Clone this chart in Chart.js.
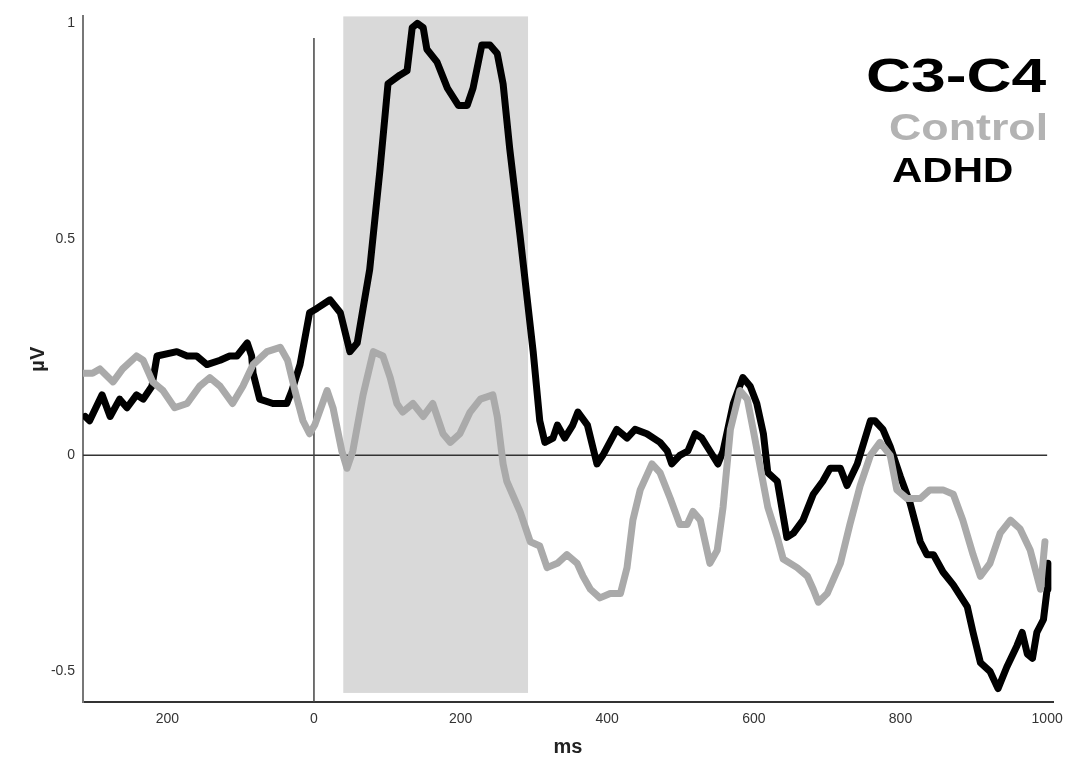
<!DOCTYPE html>
<html>
<head>
<meta charset="utf-8">
<script src="https://cdn.jsdelivr.net/npm/chart.js@4/dist/chart.umd.min.js"></script>
<style>
  html, body { margin: 0; padding: 0; background: #fff; }
  #wrap { width: 1072px; height: 763px; }
</style>
</head>
<body>
<div id="wrap"><canvas id="erp" width="1072" height="763"></canvas></div>
<script>
// ADHD (black) trace, ms / µV
const adhdMs = [-312,-306,-289,-278,-265,-255,-242,-233,-221,-214,
  -187,-173,-160,-146,-128,-115,-105,-91,-85,-83,
  -74,-56,-37,-30,-19,-6,4,22,36,49,
  59,67,76,90,101,117,127,134,141,149,
  154,168,182,197,209,217,229,240,250,258,
  267,281,299,308,315,326,332,342,353,360,
  373,386,394,413,427,438,454,472,482,488,
  499,510,520,529,540,551,558,572,585,595,
  604,613,619,632,645,654,667,681,694,704,
  718,727,741,759,765,776,786,800,813,827,
  836,845,858,872,891,899,909,922,933,945,
  959,966,973,980,986,995,1000,1001];
const adhdUv = [0.09,0.08,0.14,0.09,0.13,0.11,0.14,0.13,0.16,0.23,
  0.24,0.23,0.23,0.21,0.22,0.23,0.23,0.26,0.23,0.19,
  0.13,0.12,0.12,0.15,0.21,0.33,0.34,0.36,0.33,0.24,
  0.26,0.34,0.43,0.66,0.86,0.88,0.89,0.99,1.00,0.99,
  0.94,0.91,0.85,0.81,0.81,0.85,0.95,0.95,0.93,0.86,
  0.71,0.51,0.24,0.08,0.03,0.04,0.07,0.04,0.07,0.10,
  0.07,-0.02,0.00,0.06,0.04,0.06,0.05,0.03,0.01,-0.02,
  0.00,0.01,0.05,0.04,0.01,-0.02,0.01,0.12,0.18,0.16,
  0.12,0.05,-0.04,-0.06,-0.19,-0.18,-0.15,-0.09,-0.06,-0.03,
  -0.03,-0.07,-0.02,0.08,0.08,0.06,0.02,-0.05,-0.11,-0.20,
  -0.23,-0.23,-0.27,-0.30,-0.35,-0.41,-0.48,-0.50,-0.54,-0.49,
  -0.44,-0.41,-0.46,-0.47,-0.41,-0.38,-0.31,-0.25];

// Control (grey) trace
const ctrlMs = [-315,-302,-292,-274,-261,-242,-233,-220,-206,-190,
  -173,-156,-142,-128,-111,-97,-83,-64,-46,-36,
  -26,-15,-6,1,18,26,38,45,53,67,
  81,94,104,113,121,135,149,162,176,186,
  199,213,227,244,250,258,263,281,295,308,
  318,332,345,359,367,377,390,404,418,427,
  435,445,461,472,486,499,509,517,527,540,
  550,558,568,581,591,599,609,619,632,640,
  659,673,681,688,700,718,731,745,759,772,
  786,795,809,827,840,858,872,885,899,909,
  922,936,950,963,977,991,997];
const ctrlUv = [0.19,0.19,0.20,0.17,0.20,0.23,0.22,0.17,0.15,0.11,
  0.12,0.16,0.18,0.16,0.12,0.16,0.21,0.24,0.25,0.22,
  0.15,0.08,0.05,0.07,0.15,0.11,0.01,-0.03,0.01,0.14,
  0.24,0.23,0.18,0.12,0.10,0.12,0.09,0.12,0.05,0.03,
  0.05,0.10,0.13,0.14,0.09,-0.02,-0.06,-0.13,-0.20,-0.21,
  -0.26,-0.25,-0.23,-0.25,-0.28,-0.31,-0.33,-0.32,-0.32,-0.26,
  -0.15,-0.08,-0.02,-0.04,-0.10,-0.16,-0.16,-0.13,-0.15,-0.25,
  -0.22,-0.12,0.06,0.15,0.13,0.06,-0.03,-0.12,-0.19,-0.24,
  -0.26,-0.28,-0.31,-0.34,-0.32,-0.25,-0.16,-0.07,0.00,0.03,
  0.00,-0.08,-0.10,-0.10,-0.08,-0.08,-0.09,-0.15,-0.23,-0.28,
  -0.25,-0.18,-0.15,-0.17,-0.22,-0.31,-0.20];

const xTicks = [-200, 0, 200, 400, 600, 800, 1000];
const xTickLabels = ["200", "0", "200", "400", "600", "800", "1000"];
const yTicks = [-0.5, 0, 0.5, 1];
const yTickLabels = ["-0.5", "0", "0.5", "1"];
const shadeMs = [40, 292];   // analysis window
const shadeUv = [-0.55, 1.016];

const FONT = "'Liberation Sans', Arial, sans-serif";

const toPoints = (xs, ys) => xs.map((x, i) => ({ x: x, y: ys[i] }));

// shaded window, zero line and stimulus line
const refLines = {
  id: 'refLines',
  beforeDatasetsDraw(chart) {
    const { ctx, scales: { x, y } } = chart;
    ctx.save();
    ctx.fillStyle = '#d9d9d9';
    const x0 = x.getPixelForValue(shadeMs[0]), x1 = x.getPixelForValue(shadeMs[1]);
    const y0 = y.getPixelForValue(shadeUv[1]), y1 = y.getPixelForValue(shadeUv[0]);
    ctx.fillRect(x0, y0, x1 - x0, y1 - y0);

    ctx.strokeStyle = '#333';
    ctx.lineWidth = 1.5;
    ctx.beginPath();
    ctx.moveTo(x.left, y.getPixelForValue(0));
    ctx.lineTo(x.getPixelForValue(1000), y.getPixelForValue(0));
    ctx.stroke();

    ctx.strokeStyle = '#444';
    ctx.beginPath();
    ctx.moveTo(x.getPixelForValue(0), y.getPixelForValue(0.966));
    ctx.lineTo(x.getPixelForValue(0), y.bottom);
    ctx.stroke();
    ctx.restore();
  }
};

// title + legend drawn inside the plot, stretched like the original
const legendText = {
  id: 'legendText',
  afterDatasetsDraw(chart) {
    const ctx = chart.ctx;
    const items = [
      { text: 'C3-C4', color: '#000', size: 48, sx: 1.3, x: 866, y: 92 },
      { text: chart.data.datasets[0].label, color: '#b3b3b3', size: 37, sx: 1.21, x: 889, y: 140 },
      { text: chart.data.datasets[1].label, color: chart.data.datasets[1].borderColor, size: 35, sx: 1.2, x: 892, y: 182 }
    ];
    ctx.save();
    items.forEach(it => {
      ctx.save();
      ctx.translate(it.x, it.y);
      ctx.scale(it.sx, 1);
      ctx.font = `bold ${it.size}px ${FONT}`;
      ctx.fillStyle = it.color;
      ctx.textBaseline = 'alphabetic';
      ctx.fillText(it.text, 0, 0);
      ctx.restore();
    });
    ctx.restore();
  }
};

new Chart(document.getElementById('erp'), {
  type: 'line',
  data: {
    datasets: [
      {
        label: 'Control',
        data: toPoints(ctrlMs, ctrlUv),
        borderColor: '#aaaaaa',
        borderWidth: 7,
        pointRadius: 0,
        tension: 0,
        borderJoinStyle: 'round',
        borderCapStyle: 'round'
      },
      {
        label: 'ADHD',
        data: toPoints(adhdMs, adhdUv),
        borderColor: '#000000',
        borderWidth: 7,
        pointRadius: 0,
        tension: 0,
        borderJoinStyle: 'round',
        borderCapStyle: 'round'
      }
    ]
  },
  options: {
    responsive: false,
    animation: false,
    devicePixelRatio: 1,
    layout: { padding: { top: 10, right: 19, bottom: 0, left: 0 } },
    plugins: {
      legend: { display: false },
      tooltip: { enabled: false }
    },
    scales: {
      x: {
        type: 'linear',
        min: -315,
        max: 1008,
        grid: { display: false, drawTicks: false },
        border: { display: true, color: '#333', width: 2 },
        afterBuildTicks: s => { s.ticks = xTicks.map(v => ({ value: v })); },
        afterFit: s => { s.height = 61; },
        ticks: {
          padding: 9,
          color: '#333',
          font: { family: FONT, size: 14 },
          maxRotation: 0,
          autoSkip: false,
          callback: v => xTickLabels[xTicks.indexOf(v)]
        },
        title: {
          display: true,
          text: 'ms',
          color: '#222',
          font: { family: FONT, size: 20, weight: 'bold' },
          padding: { top: 0, bottom: 4 }
        }
      },
      y: {
        type: 'linear',
        min: -0.571,
        max: 1.016,
        grid: { display: false, drawTicks: false },
        border: { display: true, color: '#777', width: 2 },
        afterBuildTicks: s => { s.ticks = yTicks.map(v => ({ value: v })); },
        afterFit: s => { s.width = 83; },
        ticks: {
          padding: 8,
          color: '#333',
          font: { family: FONT, size: 14 },
          autoSkip: false,
          callback: v => yTickLabels[yTicks.indexOf(v)]
        },
        title: {
          display: true,
          text: 'µV',
          color: '#222',
          font: { family: FONT, size: 20, weight: 'bold' },
          padding: { top: 26, bottom: 0 }
        }
      }
    }
  },
  plugins: [refLines, legendText]
});
</script>
</body>
</html>
